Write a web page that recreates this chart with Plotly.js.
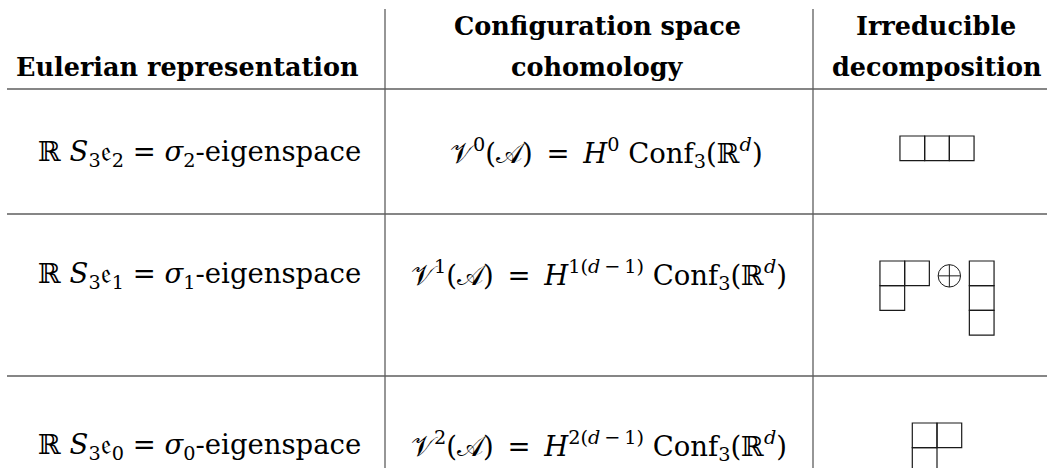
<!DOCTYPE html>
<html><head><meta charset="utf-8">
<script src="https://cdn.plot.ly/plotly-3.0.1.min.js"></script>
<style>html,body{margin:0;padding:0;background:#fff;}#chart{width:1047px;height:468px;}</style>
</head><body><div id="chart"></div>
<script>
// ---- table content ----
const headerLines = [
  ["Eulerian representation"],
  ["Configuration space", "cohomology"],
  ["Irreducible", "decomposition"]
];
const eulerianReps = [
  "ℝ <i>S</i><sub>3</sub>𝔢<sub>2</sub> = <i>σ</i><sub>2</sub>-eigenspace",
  "ℝ <i>S</i><sub>3</sub>𝔢<sub>1</sub> = <i>σ</i><sub>1</sub>-eigenspace",
  "ℝ <i>S</i><sub>3</sub>𝔢<sub>0</sub> = <i>σ</i><sub>0</sub>-eigenspace"
];
const cohomologyGroups = [
  "𝒱<sup>0</sup>(𝒜)\u2002=\u2002<i>H</i><sup>0</sup> Conf<sub>3</sub>(ℝ<sup><i>d</i></sup>)",
  "𝒱<sup>1</sup>(𝒜)\u2002=\u2002<i>H</i><sup>1(<i>d</i>\u2009−\u20091)</sup> Conf<sub>3</sub>(ℝ<sup><i>d</i></sup>)",
  "𝒱<sup>2</sup>(𝒜)\u2002=\u2002<i>H</i><sup>2(<i>d</i>\u2009−\u20091)</sup> Conf<sub>3</sub>(ℝ<sup><i>d</i></sup>)"
];
// Young diagrams (partitions) per row; several diagrams joined by ⊕
const youngDiagrams = [
  [[3]],
  [[2, 1], [1, 1, 1]],
  [[2, 1]]
];

// ---- layout ----
const W = 1047, H = 468;
const FONT = 'DejaVu Serif';
const HEAD_SIZE = 25.5, BODY_SIZE = 27.5;
const col1Right = 363, col2Center = 595, col3Center = 937;
const col2Nudge = [11, 4, 4];          // optical centring of the formulas
const vLines = [385, 813], vTop = 9;
const hLines = [89, 214, 376], hLeft = 7;
const headerBaselines = [35, 76];
const rowBaselines = [163, 285, 456];
const diagramTops = [136, 261, 423];
const BOX = 24.7, OPLUS_GAP = 20, OPLUS_R = 11.2;
const RULE = '#5e5e5e', INK = '#1a1a1a';

const shapes = [];
hLines.forEach(y => shapes.push({type:'line', xref:'x', yref:'y', x0:hLeft, x1:W, y0:y, y1:y, line:{color:RULE, width:1.3}}));
vLines.forEach(x => shapes.push({type:'line', xref:'x', yref:'y', x0:x, x1:x, y0:vTop, y1:H + 5, line:{color:RULE, width:1.3}}));

youngDiagrams.forEach((diags, r) => {
  const widths = diags.map(p => Math.max(...p) * BOX);
  const total = widths.reduce((a, b) => a + b, 0) + (diags.length - 1) * 2 * OPLUS_GAP;
  let x = col3Center - total / 2;
  const top = diagramTops[r];
  diags.forEach((p, k) => {
    p.forEach((len, i) => {
      for (let j = 0; j < len; j++) {
        shapes.push({type:'rect', xref:'x', yref:'y', x0:x + j * BOX, x1:x + (j + 1) * BOX,
          y0:top + i * BOX, y1:top + (i + 1) * BOX, line:{color:INK, width:1.2}, fillcolor:'rgba(0,0,0,0)'});
      }
    });
    x += widths[k];
    if (k < diags.length - 1) {
      const cx = x + OPLUS_GAP, cy = top + BOX / 2 + 2.5;
      shapes.push({type:'circle', xref:'x', yref:'y', x0:cx - OPLUS_R, x1:cx + OPLUS_R, y0:cy - OPLUS_R, y1:cy + OPLUS_R, line:{color:INK, width:1}});
      shapes.push({type:'line', xref:'x', yref:'y', x0:cx - OPLUS_R, x1:cx + OPLUS_R, y0:cy, y1:cy, line:{color:INK, width:1}});
      shapes.push({type:'line', xref:'x', yref:'y', x0:cx, x1:cx, y0:cy - OPLUS_R, y1:cy + OPLUS_R, line:{color:INK, width:1}});
      x += 2 * OPLUS_GAP;
    }
  });
});

const annotations = [];
const headerX = [col1Right - 2, col2Center + 2, col3Center - 1];
const headerAnchor = ['right', 'center', 'center'];
headerLines.forEach((lines, c) => {
  lines.forEach((txt, i) => {
    const slot = headerBaselines.length - lines.length + i;
    annotations.push({x:headerX[c], y:headerBaselines[slot] - 9, xref:'x', yref:'y', xanchor:headerAnchor[c], yanchor:'middle',
      text:'<b>' + txt + '</b>', showarrow:false, font:{family:FONT, size:HEAD_SIZE, color:'#000'}});
  });
});
const bodyShift = 0.36 * BODY_SIZE;
eulerianReps.forEach((txt, r) => {
  annotations.push({x:col1Right, y:rowBaselines[r] - bodyShift, xref:'x', yref:'y', xanchor:'right', yanchor:'middle',
    text:txt, showarrow:false, font:{family:FONT, size:BODY_SIZE, color:'#000'}});
});
cohomologyGroups.forEach((txt, r) => {
  annotations.push({x:col2Center + col2Nudge[r], y:rowBaselines[r] - bodyShift, xref:'x', yref:'y', xanchor:'center', yanchor:'middle',
    text:txt, showarrow:false, font:{family:FONT, size:BODY_SIZE, color:'#000'}});
});

const layout = {
  width: W, height: H,
  margin: {l:0, r:0, t:0, b:0, pad:0},
  paper_bgcolor: '#fff', plot_bgcolor: '#fff',
  xaxis: {range:[0, W], visible:false, fixedrange:true},
  yaxis: {range:[H, 0], visible:false, fixedrange:true},
  showlegend: false,
  shapes: shapes,
  annotations: annotations
};
Plotly.newPlot('chart', [], layout, {staticPlot:true, displayModeBar:false});
</script>
</body></html>
